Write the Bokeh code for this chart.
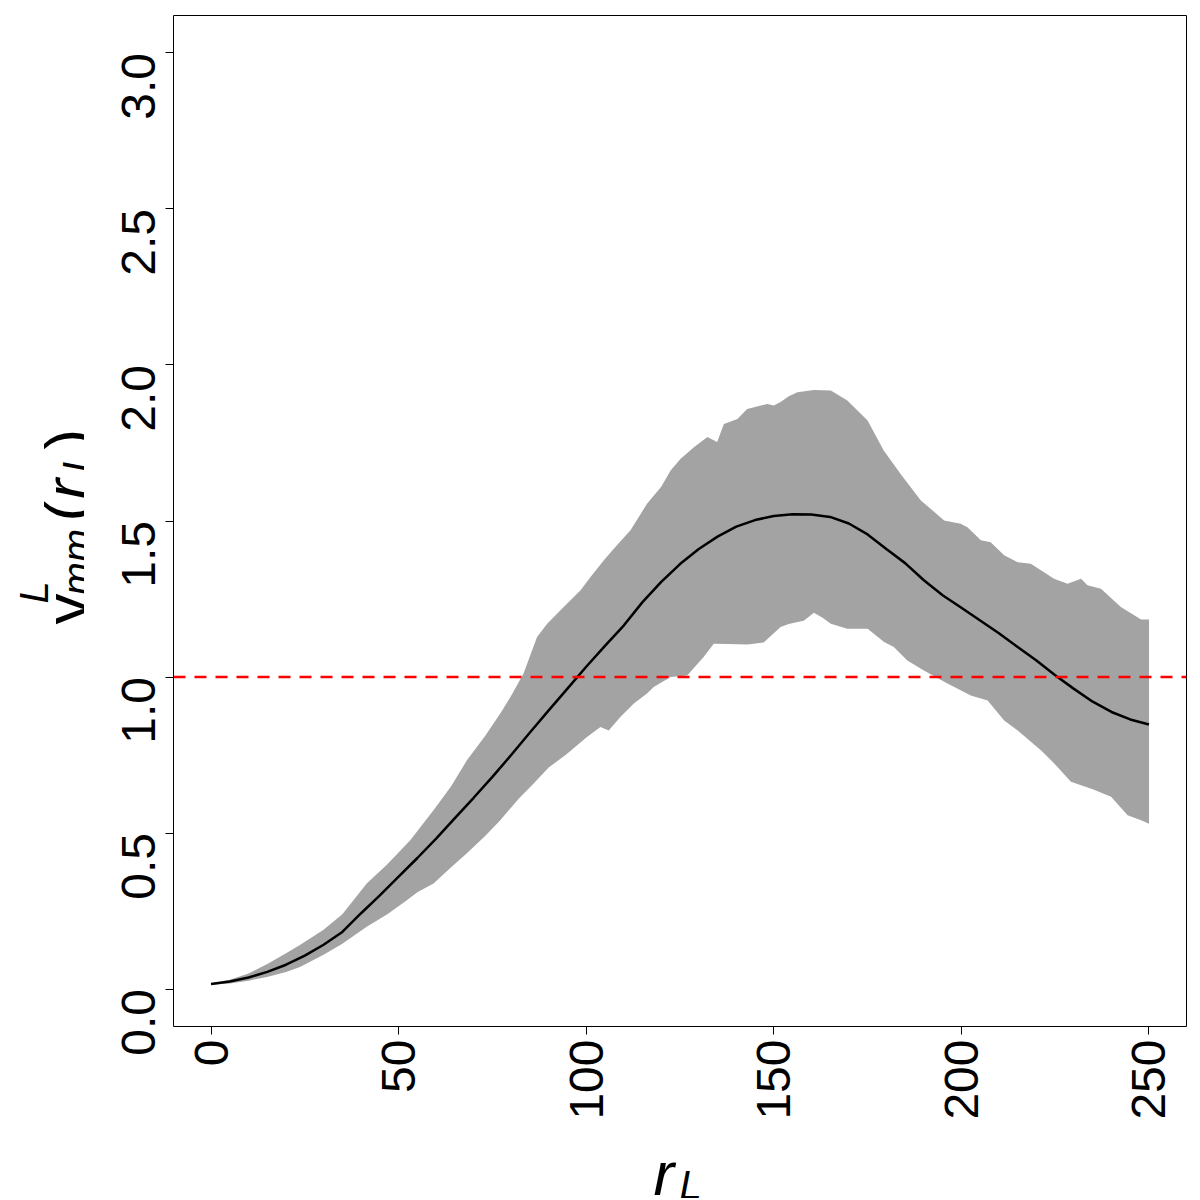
import math
from bokeh.plotting import figure
from bokeh.layouts import row, column
from bokeh.models import Range1d, FixedTicker, PrintfTickFormatter, Span
from bokeh.core.properties import value
from bokeh.embed import file_html
from bokeh.resources import INLINE

# ---- data ----
mean_x = [0, 5, 10, 15, 20, 25, 30, 35, 40, 45, 50, 55, 60, 65, 70, 75, 80, 85, 90,
          95, 100, 105, 110, 115, 120, 125, 130, 135, 140, 145, 150, 155, 160, 165,
          170, 175, 180, 185, 190, 195, 200, 205, 210, 215, 220, 225, 230, 235, 240,
          245, 250]
mean_y = [0.016, 0.024, 0.037, 0.055, 0.078, 0.107, 0.142, 0.183, 0.243, 0.300, 0.360,
          0.420, 0.482, 0.548, 0.613, 0.680, 0.750, 0.822, 0.893, 0.963, 1.033, 1.100,
          1.165, 1.240, 1.305, 1.362, 1.410, 1.450, 1.482, 1.503, 1.516, 1.522, 1.521,
          1.513, 1.492, 1.457, 1.410, 1.365, 1.310, 1.262, 1.222, 1.181, 1.140, 1.096,
          1.053, 1.006, 0.962, 0.921, 0.888, 0.864, 0.848]

upper_x = [0, 5, 10, 15, 20, 23.7, 30, 35, 41.5, 47, 53.1, 59.3, 64, 68.2, 73, 77.1,
           80, 83.3, 86.9, 89.6, 94, 98.5, 101.1, 104.7, 108, 111.8, 116.2, 120, 122.5,
           125.1, 128.7, 132.3, 134.9, 136.7, 140.3, 142.9, 145, 148.3, 150, 151.8, 154,
           156.3, 160.7, 165.2, 169.6, 175, 179.3, 183.8, 189.2, 195.4, 199.8, 201.6,
           205.2, 207.8, 211.4, 215, 218.5, 224.7, 228.3, 231.9, 233.6, 237.2, 242.5,
           247.9, 250]
upper_y = [0.018, 0.03, 0.05, 0.08, 0.115, 0.141, 0.19, 0.24, 0.338, 0.40, 0.477, 0.573,
           0.65, 0.733, 0.81, 0.883, 0.94, 1.011, 1.128, 1.171, 1.224, 1.278, 1.32, 1.374,
           1.42, 1.47, 1.555, 1.61, 1.662, 1.699, 1.736, 1.769, 1.753, 1.811, 1.827,
           1.859, 1.865, 1.875, 1.87, 1.881, 1.9, 1.913, 1.92, 1.918, 1.886, 1.822, 1.726,
           1.651, 1.566, 1.502, 1.491, 1.48, 1.438, 1.432, 1.39, 1.368, 1.363, 1.315,
           1.299, 1.315, 1.294, 1.283, 1.224, 1.184, 1.184]

lower_x = [0, 5, 10, 14.9, 20, 23.7, 30, 35, 41.5, 47, 52.2, 55, 59.3, 64, 68.2, 73,
           77.1, 82, 86, 90, 94.5, 100.2, 103.8, 106, 109.1, 112.7, 116.2, 118, 122.5,
           126.9, 131.3, 134, 138, 142.9, 147.3, 151.8, 154, 156.3, 158, 160.7, 163,
           165.2, 169.6, 175, 179.4, 182, 185.6, 190, 196.3, 202.5, 207, 211.4, 215,
           221.2, 225, 229.2, 235, 239.9, 244.3, 247.9, 250]
lower_y = [0.014, 0.018, 0.027, 0.039, 0.055, 0.071, 0.11, 0.145, 0.2, 0.24, 0.285,
           0.31, 0.338, 0.39, 0.435, 0.49, 0.541, 0.61, 0.659, 0.71, 0.75, 0.808, 0.84,
           0.829, 0.872, 0.915, 0.947, 0.968, 1.0, 1.005, 1.064, 1.107, 1.106, 1.104,
           1.111, 1.16, 1.17, 1.176, 1.18, 1.206, 1.19, 1.171, 1.155, 1.155, 1.112,
           1.096, 1.053, 1.021, 0.979, 0.941, 0.925, 0.861, 0.829, 0.765, 0.72, 0.664,
           0.64, 0.616, 0.557, 0.541, 0.53]

x_ticks = [0, 50, 100, 150, 200, 250]
y_ticks = [0.0, 0.5, 1.0, 1.5, 2.0, 2.5, 3.0]
ref_level = 1.0

FONT = "Liberation Sans"
TOTAL_W = 1192
TOTAL_H = 1198
YW = 84           # width of the strip holding the y title
XH = 63           # height of the strip holding the x title
MAIN_W = TOTAL_W - YW
MAIN_H = TOTAL_H - XH
FRAME_L, FRAME_R = 173, 1186   # page x of the plotting frame

# ---- main plot ----
p = figure(width=MAIN_W, height=MAIN_H, output_backend="svg", toolbar_location=None,
           x_range=Range1d(-10, 260), y_range=Range1d(-0.12, 3.12),
           min_border_left=FRAME_L - YW, min_border_right=TOTAL_W - FRAME_R,
           min_border_top=15, min_border_bottom=MAIN_H - 15 - 1011)
p.background_fill_color = "white"
p.border_fill_color = "white"
p.outline_line_color = "black"
p.outline_line_width = 1
p.grid.visible = False

for ax in (p.xaxis[0], p.yaxis[0]):
    ax.axis_line_color = None
    ax.axis_label = None
    ax.major_tick_out = 8
    ax.major_tick_in = 0
    ax.minor_tick_out = 0
    ax.minor_tick_in = 0
    ax.major_tick_line_color = "black"
    ax.major_label_text_font = FONT
    ax.major_label_text_font_size = "48px"
    ax.major_label_text_color = "black"
    ax.major_label_orientation = math.pi / 2

p.xaxis[0].major_label_standoff = 5
p.yaxis[0].major_label_standoff = 27
p.xaxis[0].ticker = FixedTicker(ticks=x_ticks)
p.xaxis[0].formatter = PrintfTickFormatter(format="%d")
p.yaxis[0].ticker = FixedTicker(ticks=y_ticks)
p.yaxis[0].formatter = PrintfTickFormatter(format="%.1f")

band_x = upper_x + lower_x[::-1]
band_y = upper_y + lower_y[::-1]
p.patch(band_x, band_y, fill_color="#A3A3A3", line_color=None)
p.line(mean_x, mean_y, line_color="black", line_width=2.5)
p.add_layout(Span(location=ref_level, dimension="width", line_color="red",
                  line_dash="12 9", line_width=2.5))

MAIN = "62px"
SUB = "40px"

def strip(w, h, xr, yr):
    f = figure(width=w, height=h, output_backend="svg", toolbar_location=None,
               x_range=Range1d(*xr), y_range=Range1d(*yr),
               x_axis_type=None, y_axis_type=None, min_border=0)
    f.outline_line_color = None
    f.grid.visible = False
    f.background_fill_color = "white"
    f.border_fill_color = "white"
    return f

def put(f, texts, xs, ys, size, style, angle=0.0):
    # xs, ys are page pixel positions; strips use page-y measured upward from bottom
    f.text(x=xs, y=[TOTAL_H - y for y in ys], text=texts, angle=angle,
           text_font=value(FONT), text_font_size=value(size),
           text_font_style=style, text_color="black",
           text_align="left", text_baseline="alphabetic")

# y title strip (page x 0..YW, full height)
yf = strip(YW, TOTAL_H, (0, YW), (0, TOTAL_H))
A = math.pi / 2
put(yf, ["\u03b3", "(", ")"], [66, 66, 66], [624, 521, 449], MAIN, "normal", A)
put(yf, ["r"], [66], [499], MAIN, "italic", A)
put(yf, ["L", "mm", "L"], [33, 76, 76], [603, 595, 472], SUB, "italic", A)

# x title strip: its frame is aligned with the main frame (page x FRAME_L..FRAME_R)
xf = strip(MAIN_W, XH, (FRAME_L, FRAME_R), (0, XH))
put(xf, ["r"], [653], [1173], MAIN, "italic")
put(xf, ["L"], [679], [1184], SUB, "italic")

layout = row(yf, column(p, xf, spacing=0), spacing=0)
open("out.html", "w").write(file_html(layout, INLINE))
